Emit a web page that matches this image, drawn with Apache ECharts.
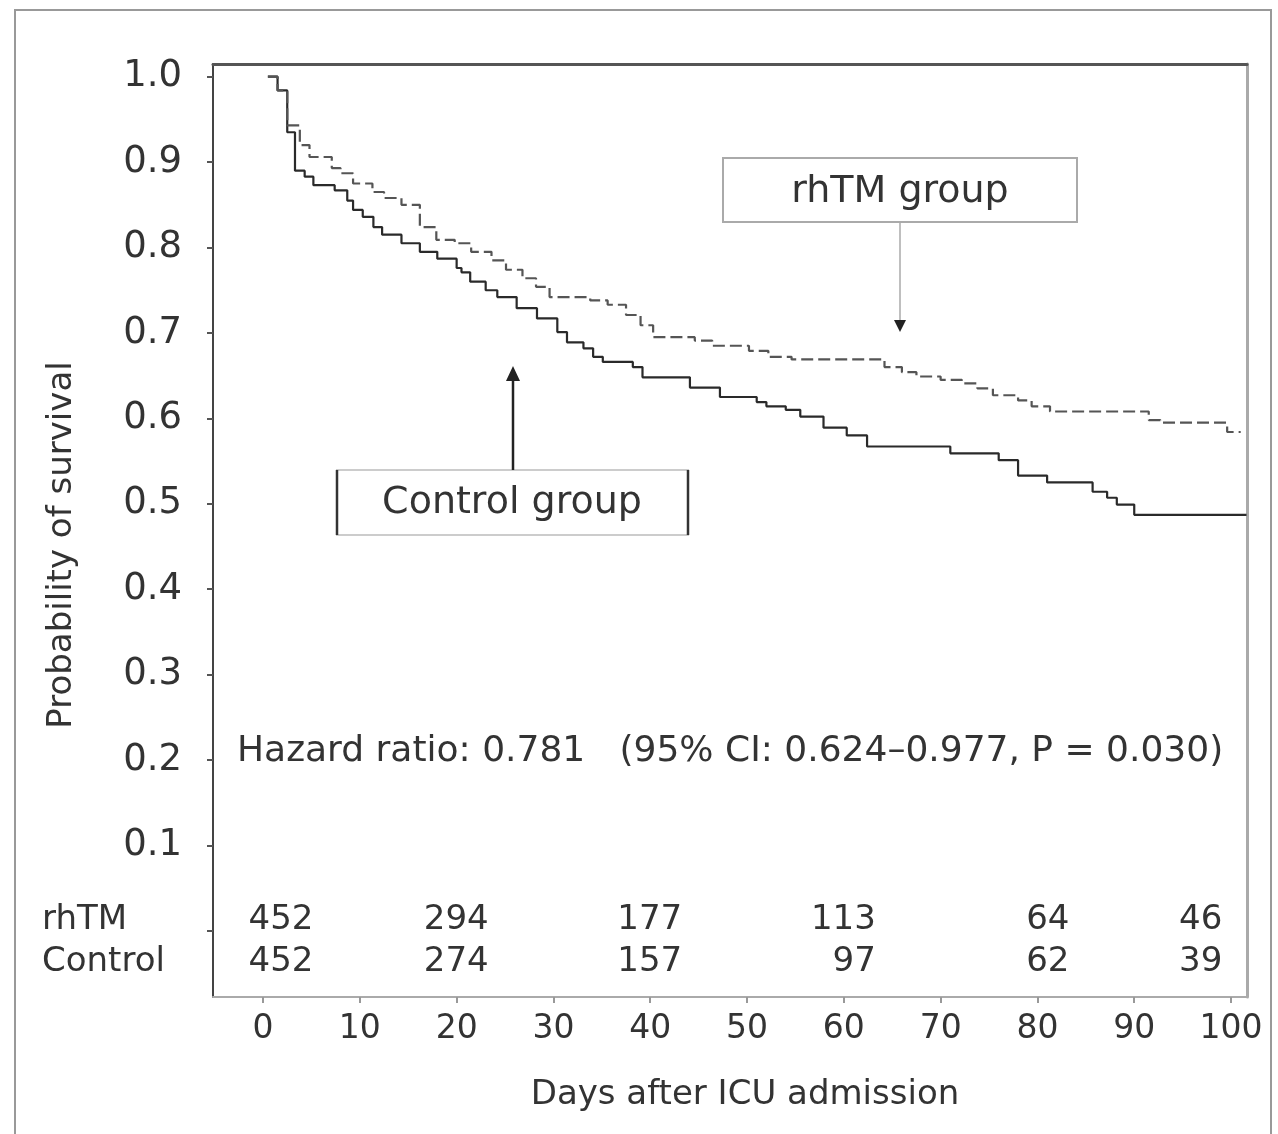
<!DOCTYPE html>
<html>
<head>
<meta charset="utf-8">
<script src="https://cdn.jsdelivr.net/npm/echarts@6/dist/echarts.min.js"></script>
<style>
html,body{margin:0;padding:0;background:#fff;}
#chart{width:1278px;height:1134px;}
</style>
</head>
<body>
<div id="chart"></div>
<script>
// ---- data ----
const controlCurve = [
  [0.5,1.0],[1.5,0.984],[2.5,0.935],[3.3,0.89],[4.3,0.883],[5.2,0.873],[7.4,0.867],
  [8.7,0.855],[9.3,0.844],[10.3,0.836],[11.4,0.824],[12.3,0.815],[14.3,0.805],
  [16.2,0.795],[18.0,0.787],[20.0,0.776],[20.5,0.771],[21.4,0.760],[23.0,0.750],
  [24.2,0.742],[26.2,0.729],[28.3,0.717],[30.4,0.701],[31.4,0.689],[33.1,0.682],
  [34.1,0.672],[35.1,0.666],[38.2,0.660],[39.2,0.648],[44.1,0.636],[47.2,0.625],
  [51.0,0.619],[52.0,0.614],[54.0,0.610],[55.5,0.602],[57.9,0.589],[60.3,0.580],
  [62.4,0.567],[71.0,0.559],[76.0,0.551],[78.0,0.533],[81.0,0.525],[85.7,0.514],
  [87.2,0.507],[88.2,0.499],[90.0,0.487],[101.6,0.487]
];
const rhtmCurve = [
  [0.5,1.0],[1.5,0.984],[2.5,0.943],[3.8,0.920],[4.8,0.906],[7.1,0.893],[8.0,0.887],
  [9.3,0.875],[11.3,0.865],[12.5,0.858],[14.3,0.850],[16.2,0.824],[17.9,0.809],
  [19.8,0.805],[21.5,0.795],[23.6,0.785],[25.1,0.774],[26.8,0.764],[28.2,0.754],
  [29.6,0.742],[33.8,0.738],[35.6,0.733],[37.5,0.721],[39.0,0.709],[40.3,0.695],
  [44.6,0.691],[46.4,0.685],[50.2,0.679],[52.2,0.672],[54.6,0.669],[64.2,0.660],
  [66.0,0.654],[67.5,0.649],[70.0,0.645],[72.2,0.641],[73.8,0.635],[75.4,0.627],
  [78.0,0.621],[79.4,0.614],[81.3,0.608],[91.5,0.598],[92.7,0.595],[99.6,0.584],
  [101.0,0.584]
];
const riskDays = [0,20,40,60,80,100];
const rhtmAtRisk = [452,294,177,113,64,46];
const controlAtRisk = [452,274,157,97,62,39];
const xTicks = [0,10,20,30,40,50,60,70,80,90,100];
const yTicks = [0,0.1,0.2,0.3,0.4,0.5,0.6,0.7,0.8,0.9,1.0];
const yLabels = [0.1,0.2,0.3,0.4,0.5,0.6,0.7,0.8,0.9,1.0];
const hazardText = 'Hazard ratio: 0.781   (95% CI: 0.624\u20130.977, P = 0.030)';

// ---- layout ----
const FONT = 'DejaVu Sans';
const TXT = '#333';
const rowRhtm = 0.0125, rowControl = -0.037;
function anchor(d){ return Math.min(Math.max(d, 1.9), 95.8); }

const chart = echarts.init(document.getElementById('chart'));
chart.setOption({
  animation: false,
  backgroundColor: '#fff',
  grid: {left: 213, right: 31, top: 64, bottom: 137, show: false},
  xAxis: [{
    type: 'value', min: -5.17, max: 101.65,
    splitLine: {show: false},
    axisLine: {show: true, onZero: false, lineStyle: {color: '#aaa', width: 2}},
    axisTick: {show: true, customValues: xTicks, length: 6, lineStyle: {color: '#999', width: 2}},
    axisLabel: {customValues: xTicks, margin: 16, fontFamily: FONT, fontSize: 33, color: TXT}
  },{
    type: 'value', position: 'top', min: -5.17, max: 101.65,
    splitLine: {show: false}, axisTick: {show: false}, axisLabel: {show: false},
    axisLine: {show: true, onZero: false, lineStyle: {color: '#555', width: 3}}
  }],
  yAxis: [{
    type: 'value', min: -0.0776, max: 1.0149,
    splitLine: {show: false},
    axisLine: {show: true, onZero: false, lineStyle: {color: '#444', width: 2}},
    axisTick: {show: true, customValues: yTicks, length: 6, lineStyle: {color: '#555', width: 2}},
    axisLabel: {customValues: yLabels, margin: 31, fontFamily: FONT, fontSize: 37, color: TXT,
      formatter: v => v.toFixed(1)}
  },{
    type: 'value', position: 'right', min: -0.0776, max: 1.0149,
    splitLine: {show: false}, axisTick: {show: false}, axisLabel: {show: false},
    axisLine: {show: true, onZero: false, lineStyle: {color: '#aaa', width: 3}}
  }],
  series: [{
    name: 'Control group', type: 'line', step: 'end', showSymbol: false, symbol: 'none',
    data: controlCurve, lineStyle: {color: '#2a2a2a', width: 2.2}, z: 3
  },{
    name: 'rhTM group', type: 'line', step: 'end', showSymbol: false, symbol: 'none',
    data: rhtmCurve, lineStyle: {color: '#555', width: 2.2, type: [12, 5]}, z: 3
  },{
    name: 'rhTM at risk', type: 'scatter', symbolSize: 0, silent: true,
    data: riskDays.map((d, i) => ({value: [anchor(d), rowRhtm], n: rhtmAtRisk[i]})),
    itemStyle: {opacity: 1},
    label: {show: true, position: 'inside', align: 'right', offset: [32, 0],
      fontFamily: FONT, fontSize: 34, color: TXT, formatter: p => String(p.data.n)}
  },{
    name: 'Control at risk', type: 'scatter', symbolSize: 0, silent: true,
    data: riskDays.map((d, i) => ({value: [anchor(d), rowControl], n: controlAtRisk[i]})),
    itemStyle: {opacity: 1},
    label: {show: true, position: 'inside', align: 'right', offset: [32, 0],
      fontFamily: FONT, fontSize: 34, color: TXT, formatter: p => String(p.data.n)}
  }],
  graphic: [
    // outer frame
    {type: 'rect', shape: {x: 15, y: 10, width: 1256, height: 1140},
      style: {fill: 'none', stroke: '#999', lineWidth: 2}, z: 0},
    // axis titles
    {type: 'text', x: 745, y: 1095, style: {text: 'Days after ICU admission', fontFamily: FONT,
      fontSize: 34, fill: TXT, align: 'center', verticalAlign: 'middle'}},
    {type: 'text', x: 62, y: 545, rotation: Math.PI / 2, style: {text: 'Probability of survival',
      fontFamily: FONT, fontSize: 34, fill: TXT, align: 'center', verticalAlign: 'middle'}},
    // at-risk row labels
    {type: 'text', x: 42, y: 920, style: {text: 'rhTM', fontFamily: FONT, fontSize: 34,
      fill: TXT, align: 'left', verticalAlign: 'middle'}},
    {type: 'text', x: 42, y: 962, style: {text: 'Control', fontFamily: FONT, fontSize: 34,
      fill: TXT, align: 'left', verticalAlign: 'middle'}},
    // hazard ratio
    {type: 'text', x: 237, y: 752, style: {text: hazardText, fontFamily: FONT, fontSize: 36,
      fill: TXT, align: 'left', verticalAlign: 'middle'}},
    // rhTM box + arrow
    {type: 'rect', shape: {x: 723, y: 158, width: 354, height: 64},
      style: {fill: '#fff', stroke: '#aaa', lineWidth: 2}},
    {type: 'text', x: 900, y: 192, style: {text: 'rhTM group', fontFamily: FONT, fontSize: 38,
      fill: TXT, align: 'center', verticalAlign: 'middle'}},
    {type: 'line', shape: {x1: 900, y1: 222, x2: 900, y2: 322}, style: {stroke: '#aaa', lineWidth: 1.5}},
    {type: 'polygon', shape: {points: [[894, 320], [906, 320], [900, 332]]}, style: {fill: '#222'}},
    // Control box + arrow
    {type: 'rect', shape: {x: 337, y: 470, width: 351, height: 65},
      style: {fill: '#fff', stroke: '#ccc', lineWidth: 2}},
    {type: 'line', shape: {x1: 337, y1: 470, x2: 337, y2: 535}, style: {stroke: '#333', lineWidth: 2.5}},
    {type: 'line', shape: {x1: 688, y1: 470, x2: 688, y2: 535}, style: {stroke: '#333', lineWidth: 2.5}},
    {type: 'text', x: 512, y: 503, style: {text: 'Control group', fontFamily: FONT, fontSize: 38,
      fill: TXT, align: 'center', verticalAlign: 'middle'}},
    {type: 'line', shape: {x1: 513, y1: 470, x2: 513, y2: 378}, style: {stroke: '#222', lineWidth: 2.5}},
    {type: 'polygon', shape: {points: [[506, 381], [520, 381], [513, 366]]}, style: {fill: '#222'}}
  ]
});
</script>
</body>
</html>
